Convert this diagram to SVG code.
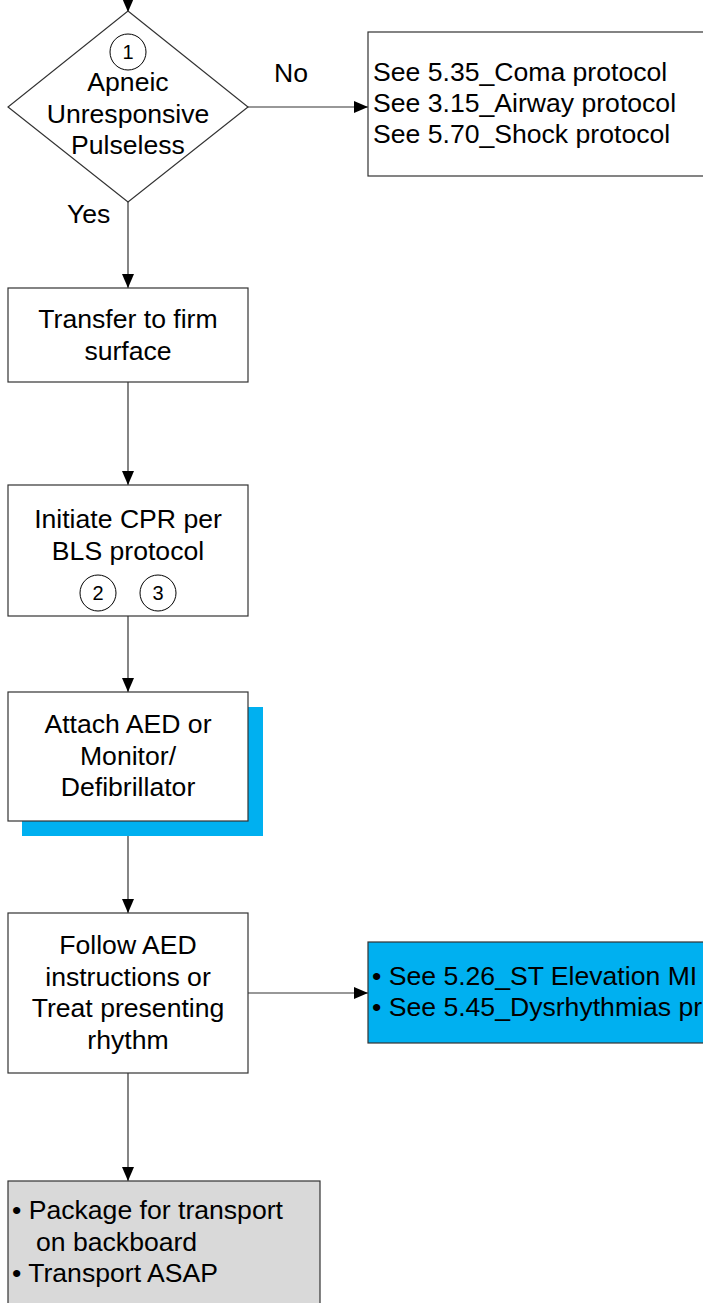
<svg xmlns="http://www.w3.org/2000/svg" width="703" height="1303" viewBox="0 0 703 1303">
  <style>
    .box { fill: #ffffff; stroke: #333333; stroke-width: 1.2; }
    .blue { fill: #00B0F0; stroke: #333333; stroke-width: 1.2; }
    .grey { fill: #D9D9D9; stroke: #333333; stroke-width: 1.2; }
    .shadow { fill: #00B0F0; stroke: none; }
    .num { fill: #ffffff; stroke: #000000; stroke-width: 1; }
    .t { font-family: "Liberation Sans", Arial, sans-serif; font-size: 26.6px; fill: #000000; }
    .c { text-anchor: middle; }
    .n { font-family: "Liberation Sans", Arial, sans-serif; font-size: 20px; fill: #000000; text-anchor: middle; }
    .edge { stroke: #333333; stroke-width: 1.2; fill: none; }
  </style>
  <defs>
    <marker id="arrow" markerUnits="userSpaceOnUse" markerWidth="14" markerHeight="12" refX="14" refY="6" orient="auto">
      <path d="M0,0 L14,6 L0,12 z" fill="#000000"/>
    </marker>
  </defs>

  <rect width="703" height="1303" fill="#ffffff"/>

  <!-- connectors -->
  <g id="connectors">
    <line class="edge" x1="128" y1="-5" x2="128" y2="12" marker-end="url(#arrow)"/>
    <line class="edge" x1="248" y1="107" x2="368" y2="107" marker-end="url(#arrow)"/>
    <line class="edge" x1="128" y1="202" x2="128" y2="288" marker-end="url(#arrow)"/>
    <line class="edge" x1="128" y1="382" x2="128" y2="485" marker-end="url(#arrow)"/>
    <line class="edge" x1="128" y1="616" x2="128" y2="692" marker-end="url(#arrow)"/>
    <line class="edge" x1="128" y1="821" x2="128" y2="913" marker-end="url(#arrow)"/>
    <line class="edge" x1="248" y1="993" x2="368" y2="993" marker-end="url(#arrow)"/>
    <line class="edge" x1="128" y1="1073" x2="128" y2="1181" marker-end="url(#arrow)"/>
    <text class="t" x="274" y="82">No</text>
    <text class="t" x="67" y="223">Yes</text>
  </g>

  <!-- decision: apneic / unresponsive / pulseless -->
  <g id="decision">
    <polygon class="box" points="128,11 248,107 128,202 8,107"/>
    <circle class="num" cx="128" cy="52" r="18"/>
    <text class="n" x="128" y="59">1</text>
    <text class="t c" x="128" y="91">Apneic</text>
    <text class="t c" x="128" y="122.5">Unresponsive</text>
    <text class="t c" x="128" y="154">Pulseless</text>
  </g>

  <!-- referral protocols -->
  <g id="refer">
    <rect class="box" x="368" y="32" width="345" height="144"/>
    <text class="t" x="373" y="81">See 5.35_Coma protocol</text>
    <text class="t" x="373" y="112">See 3.15_Airway protocol</text>
    <text class="t" x="373" y="143">See 5.70_Shock protocol</text>
  </g>

  <!-- transfer -->
  <g id="transfer">
    <rect class="box" x="8" y="288" width="240" height="94"/>
    <text class="t c" x="128" y="328">Transfer to firm</text>
    <text class="t c" x="128" y="360">surface</text>
  </g>

  <!-- CPR -->
  <g id="cpr">
    <rect class="box" x="8" y="485" width="240" height="131"/>
    <text class="t c" x="128" y="528">Initiate CPR per</text>
    <text class="t c" x="128" y="560">BLS protocol</text>
    <circle class="num" cx="98" cy="593" r="18"/>
    <text class="n" x="98" y="600">2</text>
    <circle class="num" cx="158" cy="593" r="18"/>
    <text class="n" x="158" y="600">3</text>
  </g>

  <!-- AED -->
  <g id="aed">
    <rect class="shadow" x="22" y="707" width="241" height="129"/>
    <rect class="box" x="8" y="692" width="240" height="129"/>
    <text class="t c" x="128" y="733">Attach AED or</text>
    <text class="t c" x="128" y="764.5">Monitor/</text>
    <text class="t c" x="128" y="796">Defibrillator</text>
  </g>

  <!-- follow AED -->
  <g id="follow">
    <rect class="box" x="8" y="913" width="240" height="160"/>
    <text class="t c" x="128" y="954">Follow AED</text>
    <text class="t c" x="128" y="985.5">instructions or</text>
    <text class="t c" x="128" y="1017">Treat presenting</text>
    <text class="t c" x="128" y="1048.5">rhythm</text>
  </g>

  <!-- cardiac protocols -->
  <g id="cardiac">
    <rect class="blue" x="368" y="942" width="345" height="101"/>
    <text class="t" x="372" y="985">• See 5.26_ST Elevation MI</text>
    <text class="t" x="372" y="1016">• See 5.45_Dysrhythmias pr</text>
  </g>

  <!-- transport -->
  <g id="transport">
    <rect class="grey" x="8" y="1181" width="312" height="140"/>
    <text class="t" x="12" y="1219">• Package for transport</text>
    <text class="t" x="36" y="1251">on backboard</text>
    <text class="t" x="12" y="1282">• Transport ASAP</text>
  </g>
</svg>
